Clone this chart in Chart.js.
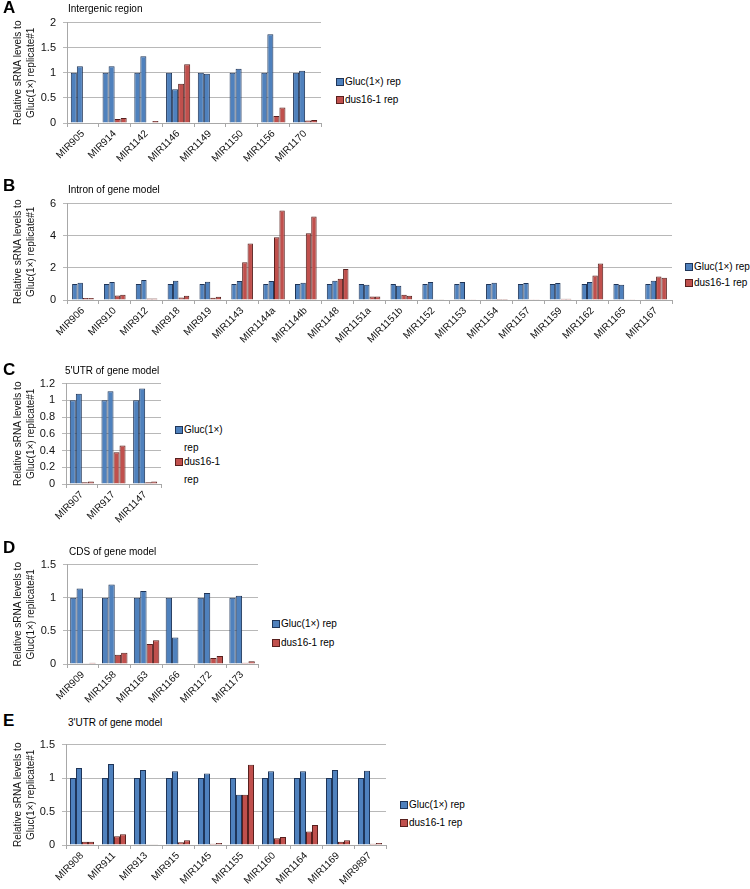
<!DOCTYPE html>
<html>
<head>
<meta charset="utf-8">
<script src="https://cdn.jsdelivr.net/npm/chart.js@4.4.1/dist/chart.umd.min.js"></script>
<style>
    body { margin: 0; width: 750px; height: 889px; background: #fff; position: relative; overflow: hidden;
           font-family: "Liberation Sans", Arial, sans-serif; color: #000; }
    .letter { position: absolute; font-weight: bold; font-size: 17px; line-height: 16px; }
    .title { position: absolute; font-size: 10px; line-height: 12px; }
    .chart-box { position: absolute; left: 0; }
    .legend { position: absolute; font-size: 10px; }
    .legend-item { position: relative; padding-left: 9px; line-height: 18px; }
    .legend-item i { position: absolute; left: 0; top: 5px; width: 6px; height: 6px; border: 1px solid; }
</style>
</head>
<body>
<script>
// A: intergenic region
const intergenicMirs = ['MIR905', 'MIR914', 'MIR1142', 'MIR1146', 'MIR1149', 'MIR1150', 'MIR1156', 'MIR1170'];
const intergenicGluc1 = [1, 1, 1, 1, 1, 1, 1, 1];
const intergenicGluc2 = [1.13, 1.13, 1.33, 0.67, 0.98, 1.08, 1.77, 1.04];
const intergenicDus1 = [0.01, 0.08, 0, 0.78, 0, 0.01, 0.14, 0.05];
const intergenicDus2 = [0.01, 0.10, 0.04, 1.17, 0, 0.01, 0.31, 0.06];

// B: intron of gene model
const intronMirs = ['MIR906', 'MIR910', 'MIR912', 'MIR918', 'MIR919', 'MIR1143', 'MIR1144a', 'MIR1144b', 'MIR1148',
    'MIR1151a', 'MIR1151b', 'MIR1152', 'MIR1153', 'MIR1154', 'MIR1157', 'MIR1159', 'MIR1162', 'MIR1165', 'MIR1167'];
const intronGluc1 = [1, 1, 1, 1, 1, 1, 1, 1, 1, 1, 1, 1, 1, 1, 1, 1, 1, 1, 1];
const intronGluc2 = [1.07, 1.12, 1.25, 1.2, 1.14, 1.18, 1.18, 1.07, 1.2, 0.95, 0.88, 1.12, 1.12, 1.07, 1.06, 1.06, 1.12, 0.95, 1.2];
const intronDus1 = [0.12, 0.28, 0.1, 0.16, 0.14, 2.35, 3.9, 4.15, 1.33, 0.22, 0.32, 0.04, 0.05, 0.06, 0.01, 0.08, 1.53, 0.01, 1.47];
const intronDus2 = [0.13, 0.32, 0.1, 0.27, 0.2, 3.52, 5.57, 5.2, 1.93, 0.22, 0.27, 0.04, 0.05, 0.07, 0.01, 0.08, 2.27, 0.01, 1.38];

// C: 5'UTR of gene model
const utr5Mirs = ['MIR907', 'MIR917', 'MIR1147'];
const utr5Gluc1 = [1, 1, 1];
const utr5Gluc2 = [1.08, 1.11, 1.14];
const utr5Dus1 = [0.02, 0.38, 0.02];
const utr5Dus2 = [0.03, 0.46, 0.03];

// D: CDS of gene model
const cdsMirs = ['MIR909', 'MIR1158', 'MIR1163', 'MIR1166', 'MIR1172', 'MIR1173'];
const cdsGluc1 = [1, 1, 1, 1, 1, 1];
const cdsGluc2 = [1.14, 1.2, 1.1, 0.4, 1.07, 1.03];
const cdsDus1 = [0.01, 0.14, 0.3, 0, 0.09, 0.02];
const cdsDus2 = [0.02, 0.17, 0.36, 0, 0.12, 0.04];

// E: 3'UTR of gene model
const utr3Mirs = ['MIR908', 'MIR911', 'MIR913', 'MIR915', 'MIR1145', 'MIR1155', 'MIR1160', 'MIR1164', 'MIR1169', 'MIR9897'];
const utr3Gluc1 = [1, 1, 1, 1, 1, 1, 1, 1, 1, 1];
const utr3Gluc2 = [1.15, 1.21, 1.12, 1.1, 1.07, 0.75, 1.1, 1.1, 1.12, 1.11];
const utr3Dus1 = [0.05, 0.13, 0.01, 0.04, 0.02, 0.75, 0.1, 0.2, 0.05, 0.02];
const utr3Dus2 = [0.05, 0.16, 0.01, 0.07, 0.03, 1.2, 0.12, 0.3, 0.07, 0.03];

const legendLabels = ['Gluc(1×) rep', 'dus16-1 rep'];
const yTitle = ['Relative sRNA levels to', 'Gluc(1×) replicate#1'];

const BLUE = '#4f81bd', BLUE_EDGE = '#1f3558';
const RED = '#c0504d', RED_EDGE = '#58201e';

const panels = [
    { letter: 'A', title: 'Intergenic region', cats: intergenicMirs,
      series: [intergenicGluc1, intergenicGluc2, intergenicDus1, intergenicDus2],
      yMax: 2, step: 0.5, top: 21, bottom: 123, right: 321, catPct: 0.76,
      letterY: 8, titleX: 68, titleY: 9, legendX: 336, legendY: 82, legendGap: 0 },
    { letter: 'B', title: 'Intron of gene model', cats: intronMirs,
      series: [intronGluc1, intronGluc2, intronDus1, intronDus2],
      yMax: 6, step: 1, top: 202, bottom: 300, right: 672, catPct: 0.68,
      letterY: 186, titleX: 68, titleY: 190, legendX: 685, legendY: 267, legendGap: -2 },
    { letter: 'C', title: "5'UTR of gene model", cats: utr5Mirs,
      series: [utr5Gluc1, utr5Gluc2, utr5Dus1, utr5Dus2],
      yMax: 1.2, step: 0.2, top: 382, bottom: 484, right: 161, catPct: 0.76,
      letterY: 370, titleX: 65, titleY: 371, legendX: 175, legendY: 430, legendGap: -4, legendWidth: 56 },
    { letter: 'D', title: 'CDS of gene model', cats: cdsMirs,
      series: [cdsGluc1, cdsGluc2, cdsDus1, cdsDus2],
      yMax: 1.5, step: 0.5, top: 563, bottom: 664, right: 258, catPct: 0.8,
      letterY: 548, titleX: 69, titleY: 552, legendX: 272, legendY: 624, legendGap: 1 },
    { letter: 'E', title: "3'UTR of gene model", cats: utr3Mirs,
      series: [utr3Gluc1, utr3Gluc2, utr3Dus1, utr3Dus2],
      yMax: 1.5, step: 0.5, top: 743, bottom: 845, right: 386, catPct: 0.75,
      letterY: 721, titleX: 68, titleY: 723, legendX: 400, legendY: 805, legendGap: 0 },
];

function addText(cls, text, x, y) {
    const el = document.createElement('div');
    el.className = cls;
    el.textContent = text;
    el.style.left = x + 'px';
    el.style.top = y + 'px';
    document.body.appendChild(el);
}

function addLegend(p) {
    const lg = document.createElement('div');
    lg.className = 'legend';
    lg.style.left = p.legendX + 'px';
    lg.style.top = (p.legendY - 9) + 'px';
    if (p.legendWidth) lg.style.width = p.legendWidth + 'px';
    [[BLUE, BLUE_EDGE], [RED, RED_EDGE]].forEach(([fill, edge], i) => {
        const item = document.createElement('div');
        item.className = 'legend-item';
        if (i > 0) item.style.marginTop = p.legendGap + 'px';
        item.innerHTML = `<i style="background:${fill};border-color:${edge}"></i>${legendLabels[i]}`;
        lg.appendChild(item);
    });
    document.body.appendChild(lg);
}

function makeChart(p) {
    const padTop = 12, axisH = 46, yAxisW = p.letter === 'C' || p.letter === 'E' ? 66 : 67;
    const box = document.createElement('div');
    box.className = 'chart-box';
    box.style.top = (p.top - padTop) + 'px';
    box.style.width = (p.right + 3) + 'px';
    box.style.height = (p.bottom - p.top + padTop + axisH) + 'px';
    const canvas = document.createElement('canvas');
    box.appendChild(canvas);
    document.body.appendChild(box);

    const colors = [BLUE, BLUE, RED, RED];
    const edges = [BLUE_EDGE, BLUE_EDGE, RED_EDGE, RED_EDGE];
    const names = ['Gluc(1×) rep#1', 'Gluc(1×) rep#2', 'dus16-1 rep#1', 'dus16-1 rep#2'];

    new Chart(canvas, {
        type: 'bar',
        data: {
            labels: p.cats,
            datasets: p.series.map((d, i) => ({
                label: names[i],
                data: d,
                backgroundColor: colors[i],
                borderColor: edges[i],
                borderWidth: 1,
                borderSkipped: 'bottom',
                categoryPercentage: p.catPct,
                barPercentage: 1.0,
            })),
        },
        options: {
            responsive: true,
            maintainAspectRatio: false,
            animation: false,
            layout: { padding: { top: padTop, right: 3, left: 0, bottom: 0 } },
            plugins: { legend: { display: false }, tooltip: { enabled: false } },
            scales: {
                x: {
                    offset: true,
                    grid: { offset: true, drawOnChartArea: false, drawTicks: true, tickLength: 4, color: '#a8a8a8' },
                    border: { display: true, color: '#a8a8a8' },
                    ticks: {
                        autoSkip: false, minRotation: 45, maxRotation: 45, padding: 1,
                        color: '#111', font: { family: 'Liberation Sans', size: 10 },
                    },
                    afterFit: (scale) => { scale.height = axisH; },
                },
                y: {
                    min: 0,
                    max: p.yMax,
                    grid: { color: '#b8b8b8', tickLength: 4 },
                    border: { display: true, color: '#a8a8a8' },
                    ticks: {
                        stepSize: p.step, padding: 7, color: '#111',
                        font: { family: 'Liberation Sans', size: 11 },
                        callback: (v) => String(Number(v.toFixed(2))),
                    },
                    title: {
                        display: true, text: yTitle, color: '#111',
                        font: { family: 'Liberation Sans', size: 10, lineHeight: 1.3 },
                        padding: { top: 11.5, bottom: 0 },
                    },
                    afterFit: (scale) => { scale.width = yAxisW; },
                },
            },
        },
    });
}

panels.forEach(p => {
    makeChart(p);
    addText('letter', p.letter, 3, p.letterY - 8);
    addText('title', p.title, p.titleX, p.titleY - 6);
    addLegend(p);
});
</script>
</body>
</html>
